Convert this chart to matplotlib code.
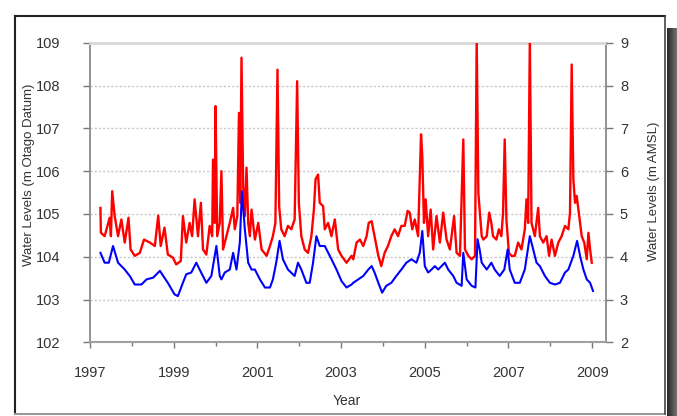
import numpy as np
import matplotlib
matplotlib.use("Agg")
import matplotlib.pyplot as plt
from matplotlib.lines import Line2D

plt.rcParams['font.family'] = ['Liberation Sans', 'DejaVu Sans']

# water level, red trace (m Otago Datum)
red_year = [1997.25, 1997.26, 1997.35, 1997.47, 1997.50, 1997.53, 1997.59, 1997.67, 1997.75, 1997.83,
            1997.92, 1997.97, 1998.07, 1998.19, 1998.29, 1998.43, 1998.55, 1998.63, 1998.69, 1998.78,
            1998.86, 1998.98, 1999.06, 1999.17, 1999.22, 1999.30, 1999.38, 1999.44, 1999.50, 1999.58,
            1999.65, 1999.70, 1999.78, 1999.86, 1999.92, 1999.94, 1999.98, 2000.00, 2000.04, 2000.10,
            2000.14, 2000.18, 2000.26, 2000.34, 2000.42, 2000.46, 2000.52, 2000.56, 2000.59, 2000.62,
            2000.66, 2000.70, 2000.74, 2000.78, 2000.82, 2000.86, 2000.94, 2001.02, 2001.10, 2001.22,
            2001.30, 2001.37, 2001.43, 2001.48, 2001.52, 2001.57, 2001.65, 2001.73, 2001.81, 2001.89,
            2001.95, 2001.99, 2002.05, 2002.13, 2002.21, 2002.29, 2002.35, 2002.39, 2002.45, 2002.49,
            2002.57, 2002.61, 2002.69, 2002.77, 2002.85, 2002.93, 2003.01, 2003.13, 2003.25, 2003.29,
            2003.37, 2003.45, 2003.53, 2003.61, 2003.66, 2003.73, 2003.80, 2003.89, 2003.96, 2004.04,
            2004.12, 2004.20, 2004.28, 2004.36, 2004.44, 2004.52, 2004.59, 2004.64, 2004.70, 2004.76,
            2004.84, 2004.91, 2004.94, 2004.98, 2005.02, 2005.08, 2005.14, 2005.20, 2005.28, 2005.36,
            2005.44, 2005.52, 2005.60, 2005.70, 2005.76, 2005.84, 2005.92, 2005.96, 2006.04, 2006.12,
            2006.20, 2006.24, 2006.28, 2006.36, 2006.40, 2006.48, 2006.54, 2006.59, 2006.63, 2006.71,
            2006.77, 2006.83, 2006.87, 2006.91, 2006.95, 2007.01, 2007.07, 2007.15, 2007.23, 2007.31,
            2007.39, 2007.43, 2007.47, 2007.51, 2007.55, 2007.63, 2007.71, 2007.75, 2007.83, 2007.91,
            2007.97, 2008.03, 2008.11, 2008.19, 2008.27, 2008.35, 2008.43, 2008.47, 2008.51, 2008.55,
            2008.59, 2008.63, 2008.67, 2008.75, 2008.81, 2008.87, 2008.91, 2008.95, 2008.99]
red_level = [105.14, 104.56, 104.48, 104.91, 104.48, 105.53, 104.95, 104.48, 104.87, 104.33,
             104.91, 104.17, 104.02, 104.09, 104.40, 104.33, 104.25, 104.96, 104.25, 104.68,
             104.05, 103.98, 103.82, 103.90, 104.95, 104.33, 104.79, 104.48, 105.34, 104.48,
             105.26, 104.17, 104.05, 104.72, 104.48, 106.27, 104.79, 107.52, 104.48, 104.79,
             106.00, 104.17, 104.48, 104.79, 105.14, 104.64, 104.95, 107.36, 105.26, 108.65,
             105.65, 104.95, 106.08, 104.79, 104.48, 105.10, 104.40, 104.79, 104.17, 104.02,
             104.25, 104.48, 104.79, 108.37, 105.18, 104.64, 104.48, 104.72, 104.64, 104.87,
             108.10, 105.26, 104.48, 104.17, 104.09, 104.48, 105.10, 105.81, 105.92, 105.26,
             105.18, 104.64, 104.79, 104.48, 104.87, 104.17, 104.02, 103.86, 104.02, 103.94,
             104.33, 104.40, 104.25, 104.48, 104.79, 104.83, 104.48, 104.02, 103.78, 104.09,
             104.25, 104.48, 104.64, 104.48, 104.72, 104.72, 105.07, 105.03, 104.64, 104.87,
             104.48, 106.86, 106.35, 104.79, 105.34, 104.48, 105.10, 104.17, 104.95, 104.33,
             105.03, 104.40, 104.17, 104.95, 104.09, 104.02, 106.74, 104.17, 104.02, 103.94,
             104.02, 109.10, 105.49, 104.48, 104.40, 104.48, 105.03, 104.79, 104.48, 104.40,
             104.64, 104.48, 105.03, 106.74, 104.87, 104.09, 104.02, 104.02, 104.33, 104.17,
             104.64, 105.34, 104.79, 109.10, 104.79, 104.48, 105.14, 104.48, 104.33, 104.48,
             104.02, 104.40, 104.02, 104.33, 104.48, 104.72, 104.64, 105.03, 108.49, 105.81,
             105.26, 105.42, 105.10, 104.48, 104.33, 103.94, 104.56, 104.17, 103.86]

# water level, blue trace
blue_year = [1997.25, 1997.35, 1997.45, 1997.55, 1997.67, 1997.83, 1997.95, 1998.07, 1998.23, 1998.35,
             1998.51, 1998.67, 1998.75, 1998.86, 1999.02, 1999.10, 1999.22, 1999.30, 1999.42, 1999.54,
             1999.62, 1999.78, 1999.90, 2000.02, 2000.10, 2000.14, 2000.22, 2000.34, 2000.42, 2000.50,
             2000.58, 2000.63, 2000.70, 2000.78, 2000.86, 2000.94, 2001.06, 2001.18, 2001.30, 2001.37,
             2001.45, 2001.53, 2001.61, 2001.73, 2001.89, 2001.97, 2002.05, 2002.17, 2002.25, 2002.33,
             2002.41, 2002.49, 2002.61, 2002.73, 2002.81, 2002.89, 2003.01, 2003.13, 2003.25, 2003.29,
             2003.41, 2003.53, 2003.65, 2003.73, 2003.80, 2003.89, 2003.98, 2004.08, 2004.20, 2004.32,
             2004.44, 2004.56, 2004.68, 2004.80, 2004.88, 2004.94, 2005.00, 2005.08, 2005.16, 2005.24,
             2005.32, 2005.40, 2005.48, 2005.56, 2005.68, 2005.76, 2005.88, 2005.92, 2006.00, 2006.12,
             2006.21, 2006.26, 2006.31, 2006.36, 2006.48, 2006.59, 2006.67, 2006.79, 2006.90, 2006.98,
             2007.03, 2007.15, 2007.27, 2007.39, 2007.51, 2007.59, 2007.67, 2007.75, 2007.87, 2007.99,
             2008.11, 2008.23, 2008.35, 2008.43, 2008.55, 2008.64, 2008.71, 2008.79, 2008.87, 2008.95,
             2009.02]
blue_level = [104.09, 103.86, 103.86, 104.25, 103.86, 103.70, 103.55, 103.35, 103.35, 103.47,
              103.51, 103.67, 103.55, 103.39, 103.12, 103.08, 103.39, 103.59, 103.63, 103.86,
              103.70, 103.39, 103.55, 104.25, 103.55, 103.47, 103.63, 103.70, 104.09, 103.70,
              104.33, 105.53, 104.64, 103.86, 103.70, 103.70, 103.47, 103.28, 103.28, 103.47,
              103.86, 104.37, 103.94, 103.70, 103.55, 103.86, 103.70, 103.39, 103.39, 103.86,
              104.48, 104.25, 104.25, 104.02, 103.86, 103.70, 103.43, 103.28, 103.35, 103.39,
              103.47, 103.55, 103.70, 103.78, 103.63, 103.39, 103.16, 103.32, 103.39, 103.55,
              103.70, 103.86, 103.94, 103.86, 104.09, 104.60, 103.78, 103.63, 103.70, 103.78,
              103.70, 103.78, 103.86, 103.70, 103.55, 103.39, 103.32, 104.09, 103.47, 103.32,
              103.28, 104.41, 104.17, 103.86, 103.70, 103.86, 103.70, 103.55, 103.70, 104.17,
              103.70, 103.39, 103.39, 103.70, 104.48, 104.17, 103.86, 103.78, 103.55, 103.39,
              103.35, 103.39, 103.63, 103.70, 104.02, 104.37, 104.02, 103.70, 103.47, 103.39,
              103.20]

left_ticks = [102, 103, 104, 105, 106, 107, 108, 109]
right_ticks = [2, 3, 4, 5, 6, 7, 8, 9]
year_labels = [1997, 1999, 2001, 2003, 2005, 2007, 2009]
year_minor = list(range(1997, 2010))

W, H = 677, 416
fig = plt.figure(figsize=(W / 100, H / 100), dpi=100)
fig.patch.set_facecolor('white')

ax = fig.add_axes([90 / W, 1 - 342.3 / H, 516 / W, 299.6 / H])
ax.plot(red_year, red_level, color='#ff0000', lw=1.7, zorder=3)
ax.plot(blue_year, blue_level, color='#0000ff', lw=1.5, zorder=4)

ax.set_xlim(1997, 2009.33)
ax.set_ylim(102, 109)
ax.set_yticks(left_ticks)
ax.set_xticks(year_labels)
ax.set_xticks(year_minor, minor=True)
ax.set_xticklabels([str(y) for y in year_labels])
for y in left_ticks[1:-1]:
    ax.axhline(y, color='#c8c8c8', lw=1.0, ls=(0, (1.5, 1.5)), zorder=1)

for s in ['left', 'right']:
    ax.spines[s].set_color('#8a8a8a')
    ax.spines[s].set_linewidth(1.3)
ax.spines['bottom'].set_color('#a0a0a0')
ax.spines['bottom'].set_linewidth(1.5)
ax.spines['top'].set_color('#d8d8d8')
ax.spines['top'].set_linewidth(2)

ax.tick_params(axis='y', direction='out', length=5, width=1, color='#777777',
               labelsize=10.5, labelcolor='#333333', pad=16)
ax.tick_params(axis='x', which='both', direction='out', width=1, color='#777777',
               labelsize=10.5, labelcolor='#333333')
ax.tick_params(axis='x', which='major', length=4, pad=13)
ax.tick_params(axis='x', which='minor', length=3)

ax2 = ax.twinx()
ax2.set_ylim(2, 9)
ax2.set_yticks(right_ticks)
ax2.tick_params(axis='y', direction='out', length=5, width=1, color='#777777',
                labelsize=10.5, labelcolor='#333333', pad=5)
for s in ax2.spines.values():
    s.set_visible(False)

ax.set_ylabel('Water Levels (m Otago Datum)', fontsize=9.5, color='#333333')
ax.yaxis.set_label_coords((35 - 90) / 516, (342.3 - 175) / 299.6)
ax2.set_ylabel('Water Levels (m AMSL)', fontsize=9.5, color='#333333', rotation=90)
ax2.yaxis.set_label_coords((648 - 90) / 516, (342.3 - 191) / 299.6)
ax.set_xlabel('Year', fontsize=10, color='#333333')
ax.xaxis.set_label_coords((347 - 90) / 516, -(394 - 342.3) / 299.6)

# screenshot frame around the chart
fx = lambda px: px / W
fy = lambda py: 1 - py / H
fig.add_artist(Line2D([fx(15), fx(15)], [fy(16), fy(414)], color='#222222', lw=1.5))
fig.add_artist(Line2D([fx(15), fx(665)], [fy(16), fy(16)], color='#222222', lw=1.5))
fig.add_artist(Line2D([fx(15), fx(665)], [fy(414), fy(414)], color='#9a9a9a', lw=1.5))
fig.add_artist(Line2D([fx(665), fx(665)], [fy(16), fy(414)], color='#444444', lw=1.2))
shade = fig.add_axes([fx(667), 0, 1 - fx(667), fy(28)])
grad = np.linspace(0.15, 0.45, 32).reshape(1, -1)
shade.imshow(grad, cmap='gray', vmin=0, vmax=1, aspect='auto')
shade.axis('off')

fig.savefig('out.png', dpi=100)
